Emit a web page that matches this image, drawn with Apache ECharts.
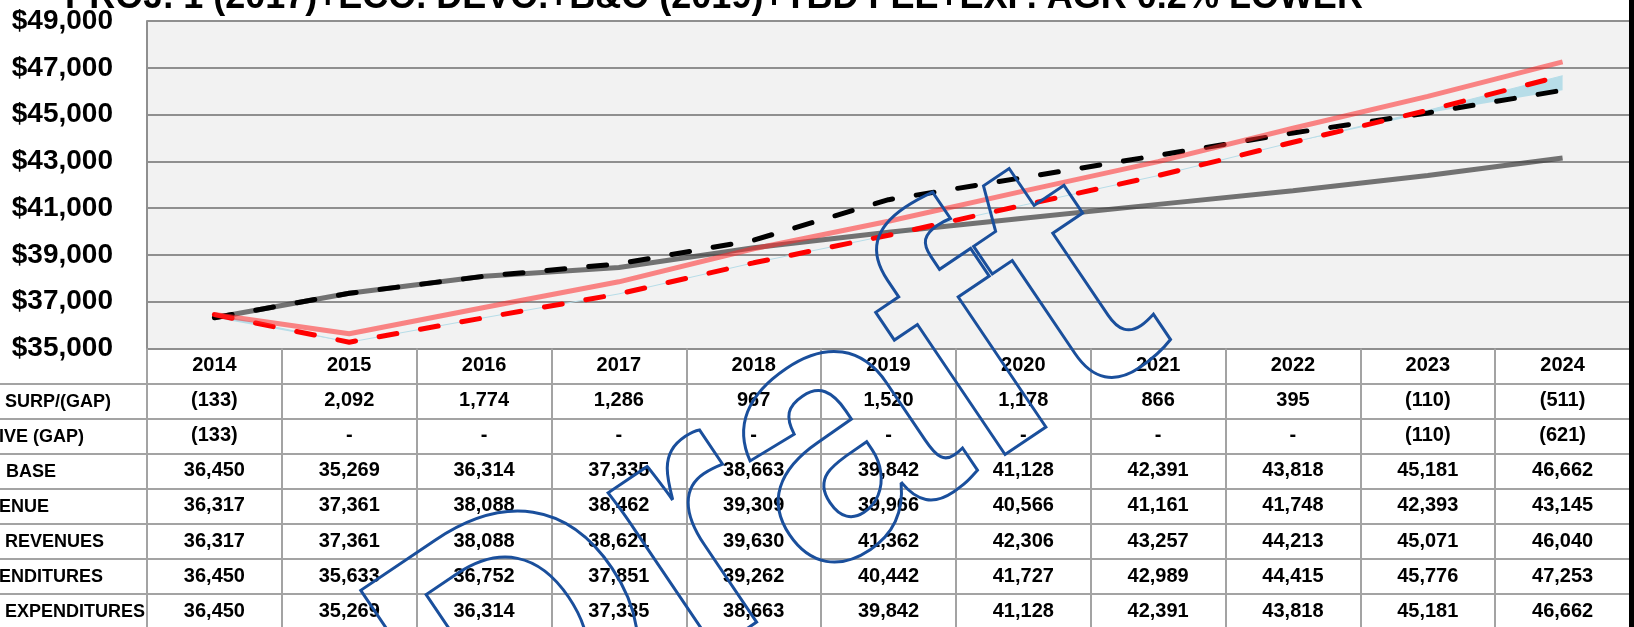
<!DOCTYPE html>
<html>
<head>
<meta charset="utf-8">
<title>Projection chart</title>
<script src="https://cdn.jsdelivr.net/npm/echarts@6/dist/echarts.min.js"></script>
<style>
  html, body { margin: 0; padding: 0; background: #fff; }
  #chart { width: 1634px; height: 627px; }
</style>
</head>
<body>
<div id="chart"></div>
<script>
    var years = ['2014', '2015', '2016', '2017', '2018', '2019', '2020', '2021', '2022', '2023', '2024'];
    var annualSurpGap = [-133, 2092, 1774, 1286, 967, 1520, 1178, 866, 395, -110, -511];
    var cumulativeGap = [-133, 0, 0, 0, 0, 0, 0, 0, 0, -110, -621];
    var expBase = [36450, 35269, 36314, 37335, 38663, 39842, 41128, 42391, 43818, 45181, 46662];
    var baseRevenue = [36317, 37361, 38088, 38462, 39309, 39966, 40566, 41161, 41748, 42393, 43145];
    var projRevenues = [36317, 37361, 38088, 38621, 39630, 41362, 42306, 43257, 44213, 45071, 46040];
    var projExpenditures = [36450, 35633, 36752, 37851, 39262, 40442, 41727, 42989, 44415, 45776, 47253];
    var baseExpenditures = [36450, 35269, 36314, 37335, 38663, 39842, 41128, 42391, 43818, 45181, 46662];
    var rowLabels = ['SURP/(GAP)', 'IVE (GAP)', 'BASE', 'ENUE', 'REVENUES', 'ENDITURES', 'EXPENDITURES'];
    var rowLabelX = [5, -1, 6, -1, 5, -1, 5];
    var yMin = 35000, yMax = 49000, yStep = 2000;
    var title = 'PROJ. 1 (2017)+ECO. DEVO.+B&O (2019)+TBD FEE+EXP. AGR 0.2% LOWER';

    var tableRows = [annualSurpGap, cumulativeGap, expBase, baseRevenue, projRevenues, projExpenditures, baseExpenditures];

    // gap band sits on top of (base exp - gap)
    var gapFloor = expBase.map(function (v, i) { return v + cumulativeGap[i]; });
    var gapBand = cumulativeGap.map(function (v) { return -v; });

    function fmt(v) {
        if (v === 0) return '-';
        var s = Math.abs(v).toLocaleString('en-US');
        return v < 0 ? '(' + s + ')' : s;
    }

    var FONT = '"Liberation Sans", Arial, sans-serif';
    var gridTop = 21, gridBottomY = 348.5, rowH = 35.1;

    var labelStyle = {
        interval: 0,
        margin: 17,
        verticalAlign: 'middle',
        fontFamily: FONT,
        fontWeight: 'bold',
        fontSize: 20,
        color: '#000'
    };

    var xAxes = [{
        type: 'category',
        data: years,
        position: 'bottom',
        axisLine: { lineStyle: { color: '#8f8f8f', width: 2 } },
        axisTick: { show: true, length: 279, lineStyle: { color: '#a3a3a3', width: 2 } },
        axisLabel: labelStyle,
        splitLine: { show: false }
    }];
    tableRows.forEach(function (row, k) {
        xAxes.push({
            type: 'category',
            data: years,
            position: 'bottom',
            offset: Math.round(rowH * (k + 1)),
            axisLine: { show: false },
            axisTick: { show: false },
            axisLabel: Object.assign({}, labelStyle, {
                formatter: function (v, i) { return fmt(row[i]); }
            })
        });
    });

    var graphics = [];
    // table row lines and labels
    for (var k = 0; k < tableRows.length; k++) {
        var y = Math.round(gridBottomY + rowH * (k + 1));
        graphics.push({
            type: 'line', z: 5,
            shape: { x1: 0, y1: y, x2: 1630, y2: y },
            style: { stroke: '#a3a3a3', lineWidth: 2 }
        });
        graphics.push({
            type: 'text', z: 5,
            style: {
                text: rowLabels[k], x: rowLabelX[k], y: y + rowH / 2,
                verticalAlign: 'middle', align: 'left',
                font: 'bold 18px ' + FONT, fill: '#000'
            }
        });
    }
    // title (cut off at the top of the picture)
    graphics.push({
        type: 'text', z: 5,
        style: {
            text: title, x: 714, y: -2,
            align: 'center', verticalAlign: 'middle',
            font: 'bold 36px ' + FONT, fill: '#000'
        }
    });
    // right border
    graphics.push({
        type: 'rect', z: 6,
        shape: { x: 1629, y: 0, width: 6, height: 627 },
        style: { fill: '#000' }
    });
    // watermark
    graphics.push({
        type: 'text', z: 100,
        x: 772, y: 492,
        rotation: 34 * Math.PI / 180,
        style: {
            text: 'Draft', x: 0, y: 0,
            align: 'center', verticalAlign: 'middle',
            font: 'bold 360px ' + FONT,
            fill: 'rgba(0,0,0,0)', stroke: '#1a4f9c', lineWidth: 3, lineJoin: 'round'
        }
    });

    var chart = echarts.init(document.getElementById('chart'), null, { renderer: 'canvas' });
    chart.setOption({
        animation: false,
        grid: {
            left: 147, right: 4, top: gridTop, bottom: 627 - gridBottomY,
            show: true, backgroundColor: '#f2f2f2', borderWidth: 0
        },
        xAxis: xAxes,
        yAxis: [{
            type: 'value',
            min: yMin, max: yMax, interval: yStep,
            axisLine: { show: true, lineStyle: { color: '#8f8f8f', width: 2 } },
            axisTick: { show: false },
            splitLine: { lineStyle: { color: '#8f8f8f', width: 2 } },
            axisLabel: {
                margin: 34,
                fontFamily: FONT, fontWeight: 'bold', fontSize: 28, color: '#000',
                formatter: function (v) { return '$' + v.toLocaleString('en-US'); }
            }
        }],
        series: [
            {
                type: 'line', stack: 'gap', data: gapFloor, symbol: 'none', silent: true, z: 1,
                lineStyle: { opacity: 0 }
            },
            {
                type: 'line', stack: 'gap', data: gapBand, symbol: 'none', silent: true, z: 1,
                lineStyle: { color: '#b7dde8', width: 1 },
                areaStyle: { color: '#b7dde8', opacity: 1 }
            },
            {
                name: 'Base revenue', type: 'line', data: baseRevenue, symbol: 'none', z: 2,
                lineStyle: { color: 'rgba(60,60,60,0.7)', width: 5 }
            },
            {
                name: 'Revenues', type: 'line', data: projRevenues, symbol: 'none', z: 3,
                lineStyle: { color: '#000', width: 5, type: [18, 24], cap: 'round' }
            },
            {
                name: 'Base expenditures', type: 'line', data: baseExpenditures, symbol: 'none', z: 4,
                lineStyle: { color: '#ff0000', width: 5, type: [18, 24], cap: 'round' }
            },
            {
                name: 'Expenditures', type: 'line', data: projExpenditures, symbol: 'none', z: 5,
                lineStyle: { color: 'rgba(255,40,40,0.55)', width: 5 }
            }
        ],
        graphic: graphics
    });
</script>
</body>
</html>
